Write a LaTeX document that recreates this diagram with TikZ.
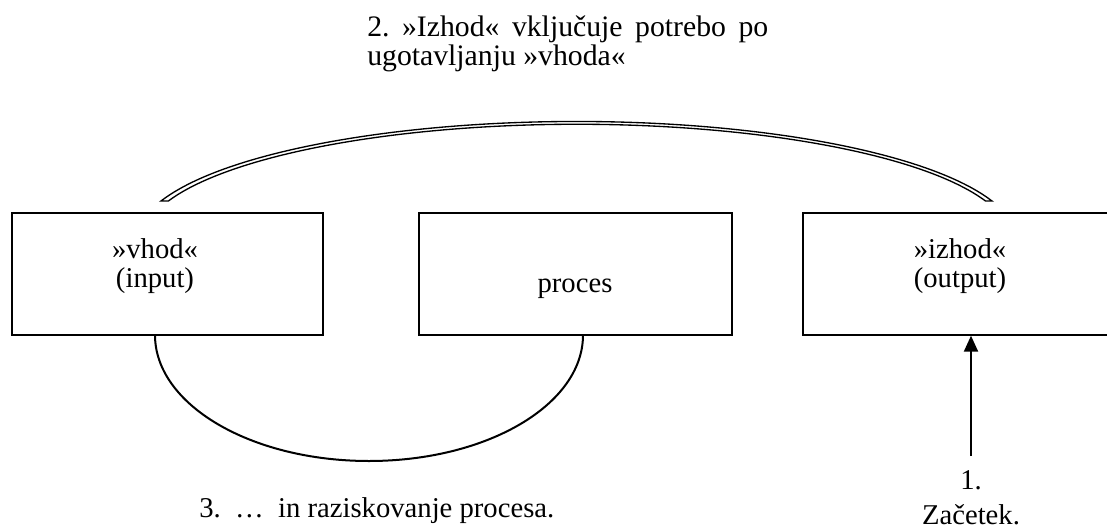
\documentclass[tikz,border=0pt]{standalone}
\usepackage{fontspec}
\setmainfont{Liberation Serif}
\usetikzlibrary{arrows.meta,fit}
\begin{document}
\frenchspacing
\begin{tikzpicture}[x=0.75pt,y=-0.75pt,
  box/.style={draw,line width=1pt,inner sep=0pt},
  txt/.style={inner sep=0pt,font=\fontsize{21.5pt}{21.75pt}\selectfont},
  bigtxt/.style={inner sep=0pt,font=\fontsize{22.3pt}{21.75pt}\selectfont},
  band/.style={draw,fill=white,line width=1pt},
  loopline/.style={draw,line width=1.5pt},
  arrowline/.style={draw,line width=1.5pt,-{Triangle[length=12pt,width=10.5pt]}}]
\useasboundingbox (0,0) rectangle (1107,529);
\clip (0,0) rectangle (1107,529);

% the three boxes (the output box runs off the right edge)
\node[box,fit={(12,213) (323,335)}] (vhod) {};
\node[box,fit={(419,213) (732,335)}] (proces) {};
\node[box,fit={(803,213) (1125,335)}] (izhod) {};

% box texts
\node[txt,align=center] (vhodtxt) at (155,266) {»vhod«\\(input)};
\node[txt,align=center] (izhodtxt) at (960,266) {»izhod«\\(output)};
\node[txt,anchor=base] (procestxt) at (575,292) {proces};

% upper tapered band linking input and output
\coordinate (bandL) at (161,201);
\coordinate (bandR) at (985.5,201);
\draw[band] (bandL) arc[start angle=160.79,end angle=19.21,x radius=330pt,y radius=88.875pt]
  -- (bandR) arc[start angle=19.7,end angle=160.3,x radius=325.5pt,y radius=86.8pt] -- cycle;

% lower loop from input to process
\coordinate (loopL) at (155,335);
\draw[loopline] (loopL) arc[start angle=180,end angle=360,x radius=160.5pt,y radius=94.5pt];

% start arrow into the output box
\coordinate (start) at (971,456);
\draw[arrowline] (start) -- (start |- izhod.south);

% captions (first line of the note set justified)
\node[bigtxt,align=left,anchor=west] (note2) at (367,43.5)
  {\makebox[300.75pt][s]{2. »Izhod« vključuje potrebo po}\\ugotavljanju »vhoda«};
\node[txt,anchor=base west] (note3) at (199,517) {3.\ \ … \ in raziskovanje procesa.};
\node[txt,align=center] (note1) at (971,497.5) {1.\\[4.5pt]Začetek.};
\end{tikzpicture}
\end{document}
